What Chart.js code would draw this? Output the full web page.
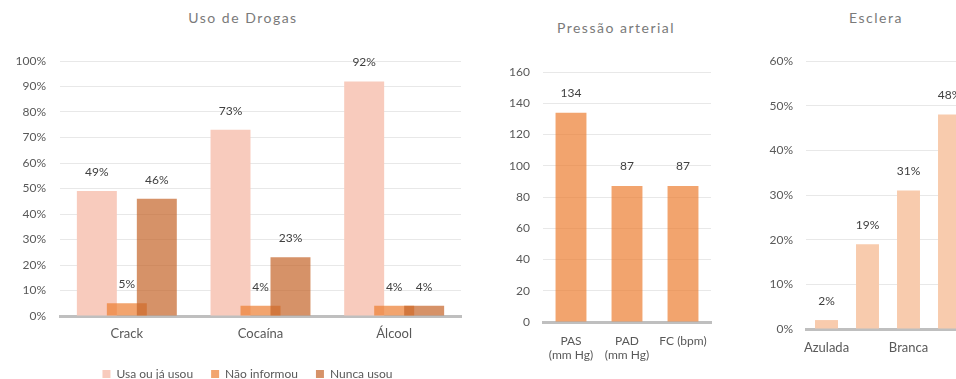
<!DOCTYPE html>
<html lang="pt">
<head>
<meta charset="UTF-8">
<script src="https://cdn.jsdelivr.net/npm/chart.js"></script>
<style>
    body {
        margin: 0;
        padding: 0;
        background: #fff;
        width: 956px;
        height: 379px;
        overflow: hidden;
        position: relative;
        font-family: Lato, 'Open Sans', sans-serif;
    }
    canvas {
        position: absolute;
        top: 0;
    }
    .title {
        position: absolute;
        font-size: 14px;
        line-height: 16px;
        letter-spacing: 1.5px;
        color: #7a7a7a;
        white-space: nowrap;
        transform: translateX(-50%);
    }
</style>
</head>
<body>
    <div class="title" style="left:243px; top:10px;">Uso de Drogas</div>
    <div class="title" style="left:616px; top:20px;">Pressão arterial</div>
    <div class="title" style="left:876px; top:10px;">Esclera</div>
    <canvas id="drogas" width="480" height="379" style="left:0"></canvas>
    <canvas id="pressao" width="250" height="379" style="left:480px"></canvas>
    <canvas id="esclera" width="280" height="379" style="left:730px"></canvas>
<script>
    // Uso de Drogas (%)
    const drogasLabels = ['Crack', 'Cocaína', 'Álcool'];
    const usaOuJaUsou = [49, 73, 92];
    const naoInformou = [5, 4, 4];
    const nuncaUsou = [46, 23, 4];

    // Pressão arterial
    const pressaoLabels = [['PAS', '(mm Hg)'], ['PAD', '(mm Hg)'], ['FC (bpm)']];
    const pressaoValues = [134, 87, 87];

    // Esclera (%)
    const escleraLabels = ['Azulada', 'Amarelada', 'Branca', 'Avermelhada'];
    const escleraValues = [2, 19, 31, 48];

    const FONT = 'Lato, "Open Sans", sans-serif';
    const TEXT = '#595959';
    const GRID = '#e8e8e8';
    const BASE = '#bfbfbf';

    Chart.defaults.font.family = FONT;
    Chart.defaults.color = TEXT;
    Chart.defaults.animation = false;

    // value labels above each bar
    const valueLabels = {
        id: 'valueLabels',
        afterDraw(chart, args, opts) {
            const ctx = chart.ctx;
            ctx.save();
            ctx.font = '12px ' + FONT;
            ctx.fillStyle = '#404040';
            ctx.textAlign = 'center';
            ctx.textBaseline = 'middle';
            chart.data.datasets.forEach((ds, i) => {
                const meta = chart.getDatasetMeta(i);
                meta.data.forEach((bar, j) => {
                    ctx.fillText(ds.data[j] + (opts.suffix || ''), bar.x, bar.y - (opts.offset || 19));
                });
            });
            ctx.restore();
        }
    };

    // draw datasets first-to-last so later series sit on top (like the overlapped bars in Excel)
    const drawInOrder = {
        id: 'drawInOrder',
        beforeDatasetsDraw(chart) {
            chart.data.datasets.forEach((ds, i) => {
                chart.getDatasetMeta(i).controller.draw();
            });
            return false;
        }
    };

    // nudge the legend under the plot like the original
    const legendShift = {
        id: 'legendShift',
        afterLayout(chart, args, opts) {
            const l = chart.legend;
            l.left += opts.dx; l.right += opts.dx;
            l.top += opts.dy; l.bottom += opts.dy;
        }
    };

    const yScale = (max, step, width, pad, suffix) => ({
        min: 0,
        max: max,
        afterFit: (scale) => { scale.width = width; },
        border: { display: false },
        grid: { color: GRID, lineWidth: 1, drawTicks: false },
        ticks: {
            stepSize: step,
            padding: pad,
            font: { size: 12 },
            color: TEXT,
            callback: (v) => v + suffix
        }
    });

    new Chart(document.getElementById('drogas'), {
        type: 'bar',
        data: {
            labels: drogasLabels,
            datasets: [
                { label: 'Usa ou já usou', data: usaOuJaUsou, backgroundColor: '#f8cbbd' },
                { label: 'Não informou', data: naoInformou, backgroundColor: 'rgba(237, 125, 49, 0.7)' },
                { label: 'Nunca usou', data: nuncaUsou, backgroundColor: 'rgba(197, 100, 40, 0.7)' }
            ]
        },
        options: {
            responsive: false,
            categoryPercentage: 0.673,
            barPercentage: 1.333,
            layout: { padding: { left: 0, right: 19, top: 61, bottom: 0 } },
            scales: {
                x: {
                    afterFit: (scale) => { scale.height = 23; },
                    grid: { display: false },
                    border: { display: true, color: BASE, width: 3 },
                    ticks: { padding: 2, font: { size: 13 }, color: TEXT }
                },
                y: yScale(100, 10, 60, 14, '%')
            },
            plugins: {
                legend: {
                    position: 'bottom',
                    labels: { boxWidth: 8, boxHeight: 8, padding: 18, font: { size: 12 }, color: TEXT }
                },
                legendShift: { dx: 17, dy: 11 },
                tooltip: { enabled: false },
                valueLabels: { suffix: '%', offset: 19 }
            }
        },
        plugins: [drawInOrder, legendShift, valueLabels]
    });

    new Chart(document.getElementById('pressao'), {
        type: 'bar',
        data: {
            labels: pressaoLabels,
            datasets: [
                { label: 'Pressão arterial', data: pressaoValues, backgroundColor: 'rgba(237, 125, 49, 0.7)' }
            ]
        },
        options: {
            responsive: false,
            categoryPercentage: 0.8,
            barPercentage: 0.69,
            layout: { padding: { left: 0, right: 19, top: 72, bottom: 0 } },
            scales: {
                x: {
                    afterFit: (scale) => { scale.height = 57; },
                    grid: { display: false },
                    border: { display: true, color: BASE, width: 3 },
                    ticks: { padding: 4, font: { size: 12, lineHeight: 1.2 }, color: TEXT }
                },
                y: yScale(160, 20, 63, 13, '')
            },
            plugins: {
                legend: { display: false },
                tooltip: { enabled: false },
                valueLabels: { suffix: '', offset: 20 }
            }
        },
        plugins: [valueLabels]
    });

    new Chart(document.getElementById('esclera'), {
        type: 'bar',
        data: {
            labels: escleraLabels,
            datasets: [
                { label: 'Esclera', data: escleraValues, backgroundColor: '#f8cbad' }
            ]
        },
        options: {
            responsive: false,
            categoryPercentage: 0.8,
            barPercentage: 0.7,
            layout: { padding: { left: 0, right: 40, top: 61, bottom: 0 } },
            scales: {
                x: {
                    afterFit: (scale) => { scale.height = 50; },
                    grid: { display: false },
                    border: { display: true, color: BASE, width: 3 },
                    ticks: {
                        padding: 3,
                        autoSkip: false,
                        maxRotation: 0,
                        font: { size: 13 },
                        color: TEXT,
                        callback: function (v, i) { return i % 2 === 0 ? this.getLabelForValue(v) : ''; }
                    }
                },
                y: yScale(60, 10, 76, 13, '%')
            },
            plugins: {
                legend: { display: false },
                tooltip: { enabled: false },
                valueLabels: { suffix: '%', offset: 19 }
            }
        },
        plugins: [valueLabels]
    });
</script>
</body>
</html>
